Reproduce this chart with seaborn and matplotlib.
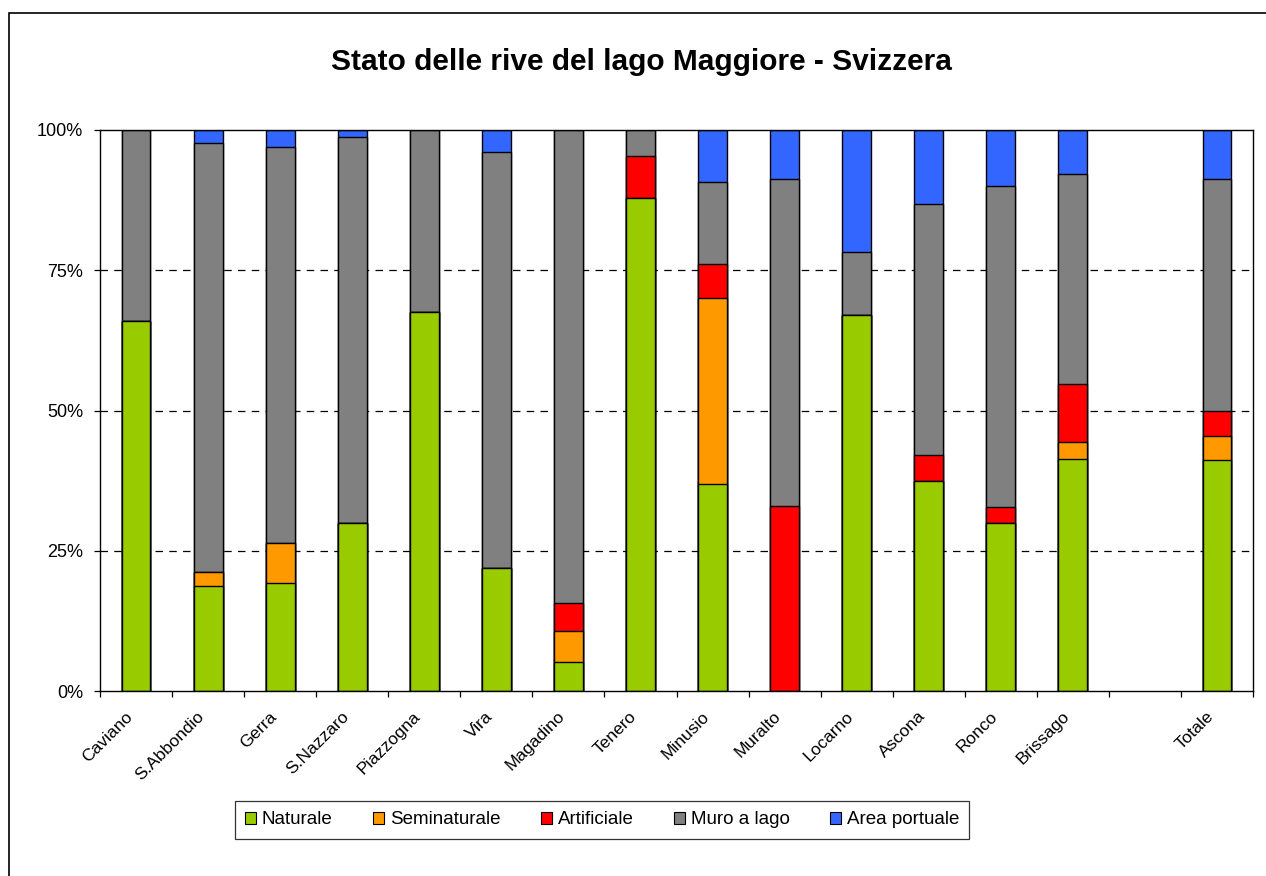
import matplotlib
matplotlib.use("Agg")
import matplotlib.pyplot as plt
import matplotlib.transforms as mtransforms
from matplotlib.patches import Patch, Rectangle
import numpy as np
import pandas as pd
import seaborn as sns

categories = ["Caviano", "S.Abbondio", "Gerra", "S.Nazzaro", "Piazzogna", "Vira",
              "Magadino", "Tenero", "Minusio", "Muralto", "Locarno", "Ascona",
              "Ronco", "Brissago", "", "Totale"]
naturale     = [65.9, 18.7, 19.3, 30.0, 67.5, 22.0, 5.2, 87.9, 36.9, 0.0, 67.0, 37.4, 30.0, 41.3, 0.0, 41.1]
seminaturale = [0.0, 2.5, 7.1, 0.0, 0.0, 0.0, 5.5, 0.0, 33.1, 0.0, 0.0, 0.0, 0.0, 3.1, 0.0, 4.3]
artificiale  = [0.0, 0.0, 0.0, 0.0, 0.0, 0.0, 5.0, 7.5, 6.1, 33.0, 0.0, 4.7, 2.8, 10.4, 0.0, 4.5]
muro_a_lago  = [34.1, 76.4, 70.6, 68.7, 32.5, 74.0, 84.3, 4.6, 14.6, 58.3, 11.3, 44.7, 57.3, 37.3, 0.0, 41.4]
area_portuale = [0.0, 2.4, 3.0, 1.3, 0.0, 4.0, 0.0, 0.0, 9.3, 8.7, 21.7, 13.2, 9.9, 7.9, 0.0, 8.7]

series_names = ["Naturale", "Seminaturale", "Artificiale", "Muro a lago", "Area portuale"]
series_values = [naturale, seminaturale, artificiale, muro_a_lago, area_portuale]
colors = ["#99CC00", "#FF9900", "#FF0000", "#808080", "#3366FF"]
y_ticks = [0, 25, 50, 75, 100]
y_labels = ["0%", "25%", "50%", "75%", "100%"]
title = "Stato delle rive del lago Maggiore - Svizzera"

sns.set_style("white")
plt.rcParams["font.family"] = ["Liberation Sans", "DejaVu Sans"]
for k in ["text.color", "axes.labelcolor", "xtick.color", "ytick.color"]:
    plt.rcParams[k] = "black"

W, H = 1266, 876
fig = plt.figure(figsize=(W / 100, H / 100), dpi=100)
ax = fig.add_axes([100 / W, (H - 691) / H, (1253 - 100) / W, (691 - 130) / H])

# normalise to 100% stacks
vals = np.array(series_values, dtype=float)
tot = vals.sum(axis=0)
tot[tot == 0] = 1
vals = vals / tot * 100
cum = np.cumsum(vals, axis=0)

order_idx = list(range(len(categories)))
# draw from the full stack down to the bottom layer so each lower layer overlays the upper
for i in range(len(series_names) - 1, -1, -1):
    df = pd.DataFrame({"pos": order_idx, "val": cum[i]})
    sns.barplot(data=df, x="pos", y="val", order=order_idx, color=colors[i],
                saturation=1, width=0.4, edgecolor="black", linewidth=1.0,
                ax=ax, errorbar=None)
for p in ax.patches:
    if p.get_height() == 0:
        p.set_visible(False)

for y in [25, 50, 75]:
    ax.axhline(y, color="black", lw=0.9, ls=(0, (6, 5)), zorder=0.5)

ax.set_xlim(-0.5, len(categories) - 0.5)
ax.set_ylim(0, 100)
ax.set_yticks(y_ticks)
ax.set_yticklabels(y_labels, fontsize=13)
ax.tick_params(axis="y", direction="out", length=4, width=0.9, pad=8, left=True)
ax.set_xticks(order_idx)
ax.set_xticklabels([])
ax.set_xticks(np.arange(-0.5, len(categories), 1.0), minor=True)
ax.tick_params(axis="x", which="major", length=0)
ax.tick_params(axis="x", which="minor", direction="out", length=4, width=0.9, bottom=True)
ax.set_xlabel("")
ax.set_ylabel("")
for sp in ax.spines.values():
    sp.set_visible(True)
    sp.set_color("black")
    sp.set_linewidth(1.0)

# rotated category labels
offset = mtransforms.ScaledTranslation(-6 / 100, -23 / 100, fig.dpi_scale_trans)
for i, lab in enumerate(categories):
    ax.text(i, 0, lab, rotation=45, ha="right", va="center", rotation_mode="anchor",
            fontsize=12.5, transform=ax.transData + offset)

fig.text(641 / W, 1 - 62 / H, title, ha="center", va="center",
         fontsize=21.5, fontweight="bold")

handles = [Patch(facecolor=c, edgecolor="black", linewidth=0.8) for c in colors]
leg = fig.legend(handles, series_names, loc="center", bbox_to_anchor=(602 / W, 1 - 820 / H),
                 ncol=5, frameon=True, fontsize=13.5, handlelength=0.6, handleheight=0.6,
                 handletextpad=0.3, columnspacing=2.15, borderpad=0.55, fancybox=False)
leg.get_frame().set_edgecolor("black")
leg.get_frame().set_linewidth(0.9)

fig.patches.append(Rectangle((8.5 / W, -0.1), 1.2, (1 - 13 / H) + 0.1, transform=fig.transFigure,
                             fill=False, edgecolor="black", linewidth=1.2))

fig.savefig("out.png", dpi=100)
